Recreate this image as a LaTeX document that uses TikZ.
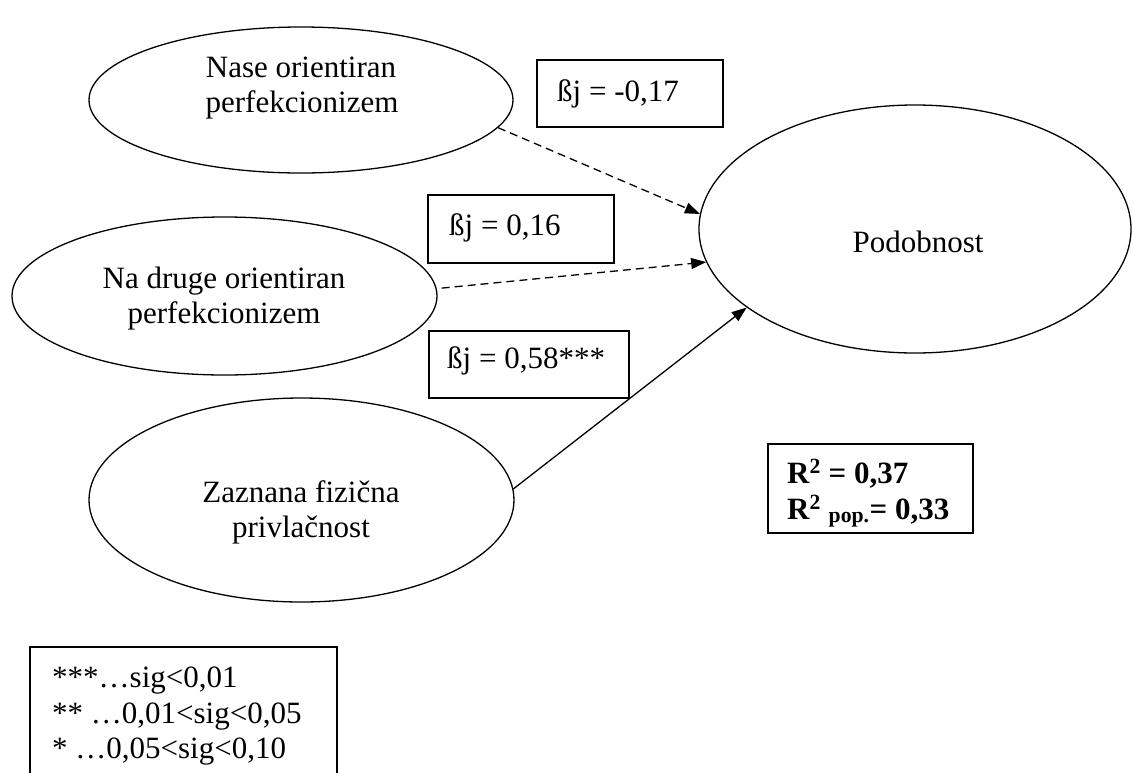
\documentclass[tikz,border=0pt]{standalone}
\usepackage{fontspec}
\setmainfont{Liberation Serif}
\usetikzlibrary{shapes.geometric,arrows.meta}
\begin{document}
\begin{tikzpicture}[x=1pt,y=-1pt,
  ell/.style={draw, ellipse, line width=1.3pt, inner sep=0pt},
  txt/.style={font=\fontsize{31}{35}\selectfont, inner sep=0pt, anchor=base},
  txtl/.style={txt, anchor=base west},
  btxt/.style={font=\fontsize{31}{36}\selectfont\bfseries, inner sep=0pt, anchor=base west},
  bbox/.style={draw, rectangle, line width=2pt, inner sep=0pt},
  lbox/.style={draw, rectangle, line width=1.3pt, inner sep=0pt},
  conn/.style={line width=1.3pt, -{Triangle[length=15pt,width=11pt]}},
  dconn/.style={conn, dash pattern=on 8pt off 5pt}]
\useasboundingbox (0,0) rectangle (1133,772);
\clip (0,0) rectangle (1133,772);
\fill[white] (0,0) rectangle (1133,772);

% ellipses
\node[ell, minimum width=424pt, minimum height=146pt] (e1) at (301,100) {};
\node[ell, minimum width=425pt, minimum height=158pt] (e2) at (224.5,296) {};
\node[ell, minimum width=425pt, minimum height=204pt] (e3) at (301.5,500) {};
\node[ell, minimum width=432pt, minimum height=248pt] (e4) at (915,229) {};

% ellipse texts
\node[txt] (t1a) at (301,77) {Nase orientiran};
\node[txt] (t1b) at (302,112) {perfekcionizem};
\node[txt] (t2a) at (224,288) {Na druge orientiran};
\node[txt] (t2b) at (224,323) {perfekcionizem};
\node[txt] (t3a) at (301,502) {Zaznana fizična};
\node[txt] (t3b) at (301,537) {privlačnost};
\node[txt] (t4) at (918,252) {Podobnost};

% coefficient boxes
\node[bbox, minimum width=186pt, minimum height=67pt] (b1) at (630,93.5) {};
\node[txtl] (b1t) at (557,101) {ßj = -0,17};
\node[bbox, minimum width=186pt, minimum height=68pt] (b2) at (521,229) {};
\node[txtl] (b2t) at (449,235) {ßj = 0,16};
\node[bbox, minimum width=200pt, minimum height=67pt] (b3) at (529,364.5) {};
\node[txtl] (b3t) at (447,368) {ßj = 0,58***};

% R2 box
\node[bbox, minimum width=205pt, minimum height=89pt] (rb) at (870.5,488.5) {};
\node[btxt] (r1) at (787,483) {R\textsuperscript{2} = 0,37};
\node[btxt] (r2) at (787,519) {R\textsuperscript{2} \textsubscript{pop.}= 0,33};

% legend box (bottom edge outside the picture)
\node[lbox, minimum width=307pt, minimum height=160pt] (lg) at (183.5,727) {};
\node[txtl] (l1) at (52,687) {***…sig<0,01};
\node[txtl] (l2) at (52,723) {** …0,01<sig<0,05};
\node[txtl] (l3) at (52,758) {* …0,05<sig<0,10};

% connectors
\draw[dconn] (e1.-8.3) -- (e4.176.8);
\draw[dconn, shorten <=5pt] (e2.2.6) -- (e4.189.5);
\draw[conn] (e3.3.2) -- (e4.205.2);
\end{tikzpicture}
\end{document}
